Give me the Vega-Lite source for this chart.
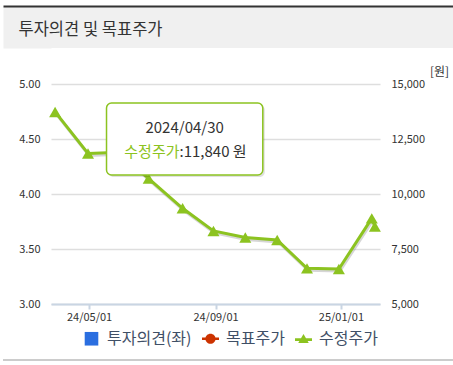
{
  "$schema": "https://vega.github.io/schema/vega-lite/v6.json",
  "padding": {"left": 3, "top": 6, "right": 0, "bottom": 0},
  "spacing": 17,
  "config": {"view": {"stroke": null}, "font": "Noto Sans CJK KR"},
  "datasets": {
    "price": [
      {"date": "2024-03-29T00:00:00", "price": 13730},
      {"date": "2024-04-30T00:00:00", "price": 11840},
      {"date": "2024-05-31T00:00:00", "price": 11900},
      {"date": "2024-06-28T00:00:00", "price": 10700},
      {"date": "2024-07-31T00:00:00", "price": 9350},
      {"date": "2024-08-30T00:00:00", "price": 8320},
      {"date": "2024-09-30T00:00:00", "price": 8020},
      {"date": "2024-10-31T00:00:00", "price": 7910},
      {"date": "2024-11-29T00:00:00", "price": 6620},
      {"date": "2024-12-30T00:00:00", "price": 6590},
      {"date": "2025-01-31T00:00:00", "price": 8890},
      {"date": "2025-02-03T00:00:00", "price": 8520}
    ],
    "legend": [{"series": "투자의견(좌)", "border": "b"}, {"series": "목표주가", "border": "b"}, {"series": "수정주가", "border": "b"}],
    "tipbox": [{"date": "2024-05-18T00:00:00", "date2": "2024-10-17T00:00:00", "price": 14136, "price2": 10864}],
    "tipdate": [{"date": "2024-08-02T00:00:00", "price": 13020, "label": "2024/04/30"}],
    "tipname": [{"date": "2024-07-28T00:00:00", "price": 11890, "label": "수정주가"}],
    "tipval": [{"date": "2024-07-28T00:00:00", "price": 11890, "label": ":11,840 원"}],
    "unit": [{"v": 0}, {"v": 1}]
  },
  "vconcat": [
    {
      "width": 402,
      "height": 42,
      "view": {"fill": "#f0f0f0", "stroke": null},
      "data": {"name": "unit"},
      "transform": [{"filter": "false"}],
      "mark": {"type": "point", "opacity": 0},
      "encoding": {
        "x": {"field": "v", "type": "quantitative", "title": "투자의견 및 목표주가",
          "scale": {"domain": [0, 1], "range": [-48, 402]},
          "axis": {"orient": "top", "domain": true, "domainColor": "#333333", "domainWidth": 2, "ticks": false, "labels": false, "grid": false, "zindex": 1,
            "minExtent": 0, "maxExtent": 0,
            "titleX": -33, "titleY": 23.5, "titleAlign": "left", "titleBaseline": "middle",
            "titleFont": "Noto Sans CJK KR", "titleFontSize": 16.5, "titleFontWeight": "normal", "titleColor": "#333333"}},
        "y": {"field": "v", "type": "quantitative", "title": null,
          "scale": {"domain": [0, 1]},
          "axis": {"orient": "left", "domain": true, "domainColor": "#f0f0f0", "domainWidth": 48, "offset": 24, "ticks": false, "labels": false, "grid": false, "zindex": 0,
            "minExtent": 0, "maxExtent": 0}}
      }
    },
    {
      "width": 329,
      "height": 220,
      "layer": [
        {
          "data": {"name": "price"},
          "mark": {"type": "line", "color": "#777777", "opacity": 0.3, "strokeWidth": 3, "xOffset": 1, "yOffset": 2},
          "encoding": {
            "x": {"field": "date", "type": "temporal", "title": null,
              "scale": {"domain": [{"year": 2024, "month": 3, "date": 25}, {"year": 2025, "month": 2, "date": 8}]},
              "axis": {"orient": "bottom", "values": [{"year": 2024, "month": 5, "date": 1}, {"year": 2024, "month": 9, "date": 1}, {"year": 2025, "month": 1, "date": 1}],
                "format": "%y/%m/%d", "labelFontSize": 11, "labelColor": "#333333", "domainColor": "#c9d5e3", "domainWidth": 2,
                "tickColor": "#c9d5e3", "tickWidth": 2, "tickSize": 5, "grid": false, "labelPadding": 2, "zindex": 1}},
            "y": {"field": "price", "type": "quantitative", "title": null,
              "scale": {"domain": [5000, 15000], "nice": false, "zero": false},
              "axis": {"orient": "left", "values": [5000, 7500, 10000, 12500, 15000],
                "labelExpr": "format(3 + (datum.value - 5000) / 5000, '.2f')",
                "grid": true, "gridColor": "#dedede", "gridWidth": 1.5,
                "domain": false, "ticks": false, "labelPadding": 11, "minExtent": 48, "labelFontSize": 11, "labelColor": "#333333"}}
          }
        },
        {
          "data": {"name": "price"},
          "mark": {"type": "line", "color": "#8cc320", "strokeWidth": 3},
          "encoding": {
            "x": {"field": "date", "type": "temporal", "title": null},
            "y": {"field": "price", "type": "quantitative", "title": "[원]",
              "axis": {"orient": "right", "values": [5000, 7500, 10000, 12500, 15000], "labelExpr": "format(datum.value, ',')",
                "grid": false, "domain": false, "ticks": false,
                "labelPadding": 11, "labelFontSize": 11, "labelColor": "#333333",
                "titleAngle": 0, "titleX": 59, "titleY": -13, "titleAlign": "center", "titleBaseline": "middle",
                "titleFontSize": 12, "titleFontWeight": "normal", "titleColor": "#333333"}}
          }
        },
        {
          "data": {"name": "price"},
          "mark": {"type": "point", "shape": "triangle-up", "size": 144, "filled": true, "opacity": 1, "color": "#8cc320"},
          "encoding": {
            "x": {"field": "date", "type": "temporal", "title": null},
            "y": {"field": "price", "type": "quantitative", "title": null, "axis": null}
          }
        },
        {
          "data": {"name": "legend"},
          "transform": [{"filter": "false"}],
          "mark": {"type": "point", "filled": true, "opacity": 1},
          "encoding": {
            "color": {"field": "series", "type": "nominal",
              "scale": {"domain": ["투자의견(좌)", "목표주가", "수정주가"], "range": ["#2a6ee0", "#cc3300", "#8cc320"]},
              "legend": {"orient": "none", "legendX": 32, "legendY": 324, "direction": "horizontal", "title": null,
                "labelFont": "Noto Sans CJK KR", "labelFontSize": 16, "labelColor": "#3f4f66", "symbolSize": 289,
                "symbolOpacity": 1, "symbolStrokeWidth": 0, "labelOffset": 7, "columnPadding": 10, "padding": 0}},
            "shape": {"field": "series", "type": "nominal",
              "scale": {"domain": ["투자의견(좌)", "목표주가", "수정주가"],
                "range": ["M-0.8,-0.8L0.8,-0.8L0.8,0.8L-0.8,0.8Z",
                  "M-1,-0.16L1,-0.16L1,0.16L-1,0.16Z M-0.6,0A0.6,0.6 0 1,1 0.6,0A0.6,0.6 0 1,1 -0.6,0Z",
                  "M-1,-0.06L1,-0.06L1,0.26L-1,0.26Z M0,-0.55L0.62,0.5L-0.62,0.5Z"]}},
            "opacity": {"field": "border", "type": "ordinal",
              "scale": {"domain": ["b"], "range": [1]},
              "legend": {"orient": "none", "legendX": -48, "legendY": 129, "title": null,
                "symbolType": "M-1,-0.0045L1,-0.0045L1,0.0045L-1,0.0045Z", "symbolSize": 202500,
                "symbolFillColor": "#cccccc", "symbolStrokeColor": "#cccccc", "symbolStrokeWidth": 0, "symbolOpacity": 1,
                "labelExpr": "''", "labelFontSize": 1, "labelOffset": 0, "padding": 0,
                "encode": {"symbols": {"update": {"shape": {"value": "M-1,-0.0045L1,-0.0045L1,0.0045L-1,0.0045Z"}, "fill": {"value": "#cccccc"}, "stroke": {"value": "transparent"}, "opacity": {"value": 1}, "size": {"value": 202500}}}}}}
          }
        },
        {
          "data": {"name": "tipbox"},
          "mark": {"type": "rect", "fill": "#000000", "opacity": 0.12, "cornerRadius": 5, "xOffset": 2, "x2Offset": 2, "yOffset": 2, "y2Offset": 2},
          "encoding": {
            "x": {"field": "date", "type": "temporal", "title": null}, "x2": {"field": "date2"},
            "y": {"field": "price", "type": "quantitative", "title": null, "axis": null}, "y2": {"field": "price2"}
          }
        },
        {
          "data": {"name": "tipbox"},
          "mark": {"type": "rect", "fill": "#ffffff", "stroke": "#8cc320", "strokeWidth": 1.5, "cornerRadius": 5},
          "encoding": {
            "x": {"field": "date", "type": "temporal", "title": null}, "x2": {"field": "date2"},
            "y": {"field": "price", "type": "quantitative", "title": null, "axis": null}, "y2": {"field": "price2"}
          }
        },
        {
          "data": {"name": "tipdate"},
          "mark": {"type": "text", "align": "center", "baseline": "middle", "fontSize": 15, "color": "#333333"},
          "encoding": {
            "x": {"field": "date", "type": "temporal", "title": null},
            "y": {"field": "price", "type": "quantitative", "title": null, "axis": null},
            "text": {"field": "label"}
          }
        },
        {
          "data": {"name": "tipname"},
          "mark": {"type": "text", "align": "right", "baseline": "middle", "fontSize": 15, "color": "#8cc320"},
          "encoding": {
            "x": {"field": "date", "type": "temporal", "title": null},
            "y": {"field": "price", "type": "quantitative", "title": null, "axis": null},
            "text": {"field": "label"}
          }
        },
        {
          "data": {"name": "tipval"},
          "mark": {"type": "text", "align": "left", "baseline": "middle", "fontSize": 15, "color": "#333333"},
          "encoding": {
            "x": {"field": "date", "type": "temporal", "title": null},
            "y": {"field": "price", "type": "quantitative", "title": null, "axis": null},
            "text": {"field": "label"}
          }
        }
      ],
      "resolve": {"axis": {"y": "independent"}}
    }
  ]
}
